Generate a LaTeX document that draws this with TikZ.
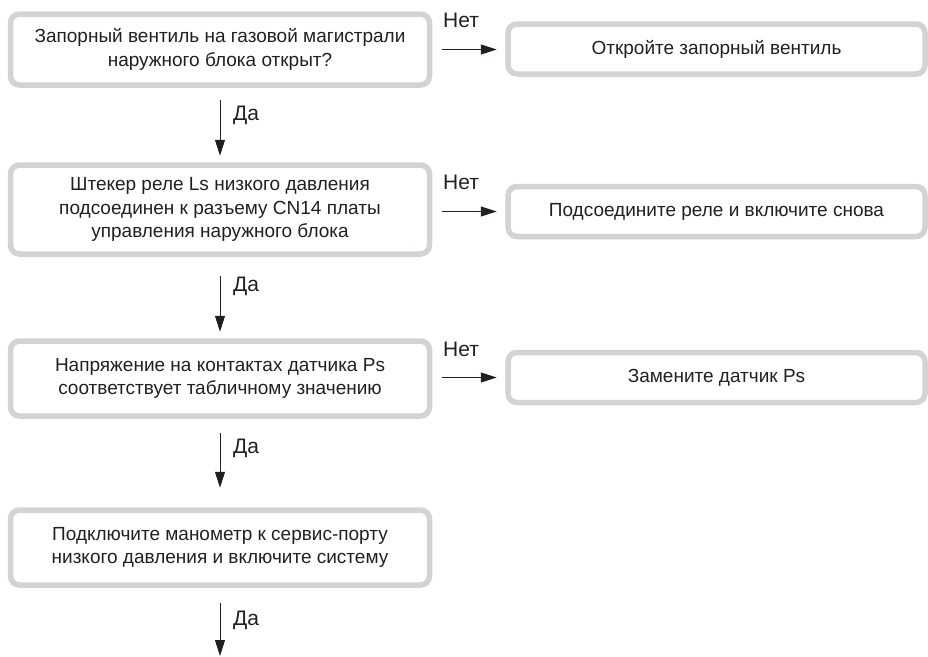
\documentclass[tikz,border=0pt]{standalone}
\usepackage{fontspec}
\setmainfont{Liberation Sans}
\usetikzlibrary{arrows.meta}
\definecolor{bordergray}{RGB}{209,211,212}
\definecolor{txt}{RGB}{35,31,32}
\begin{document}
\begin{tikzpicture}[x=1pt,y=-1pt,
  every node/.style={text=txt, font=\fontsize{19pt}{23.5pt}\selectfont},
  qbox/.style={draw=bordergray, line width=5.5pt, rounded corners=9pt, align=center,
    minimum width=419pt, inner sep=0pt},
  abox/.style={draw=bordergray, line width=5.5pt, rounded corners=9pt, align=center,
    minimum width=417pt, minimum height=50pt, inner sep=0pt},
  lbl/.style={inner sep=0pt, font=\fontsize{21pt}{25pt}\selectfont},
  arr/.style={draw=txt, line width=0.9pt, -{Triangle[length=16pt,width=10pt]}}
]
\useasboundingbox (0,0) rectangle (928,656);

% question boxes
\node[qbox, minimum height=71pt] (b1) at (220,49.5)
  {Запорный вентиль на газовой магистрали\\наружного блока открыт?};
\node[qbox, minimum height=89pt] (b2) at (220,209.5)
  {Штекер реле Ls низкого давления\\подсоединен к разъему CN14 платы\\управления наружного блока};
\node[qbox, minimum height=75pt] (b3) at (220,378.5)
  {Напряжение на контактах датчика Ps\\соответствует табличному значению};
\node[qbox, minimum height=75pt] (b4) at (220,547.5)
  {Подключите манометр к сервис-порту\\низкого давления и включите систему};

% action boxes
\node[abox] (r1) at (716.5,49) {Откройте запорный вентиль};
\node[abox] (r2) at (716.5,211.5) {Подсоедините реле и включите снова};
\node[abox] (r3) at (716.5,377.5) {Замените датчик Ps};

\coordinate (end) at (220,656);

% down arrows
\draw[arr, shorten <=12.5pt, shorten >=6.5pt] (b1.south) -- (b2.north);
\draw[arr, shorten <=19pt, shorten >=6.5pt] (b2.south) -- (b3.north);
\draw[arr, shorten <=14.5pt, shorten >=19.5pt] (b3.south) -- (b4.north);
\draw[arr, shorten <=15.5pt] (b4.south) -- (end);

% right arrows
\draw[arr, shorten <=10pt, shorten >=8.5pt] (b1.east) -- (b1.east -| r1.west);
\draw[arr, shorten <=10pt, shorten >=8.5pt] (b2.east |- r2.west) -- (r2.west);
\draw[arr, shorten <=10pt, shorten >=8.5pt] (b3.east |- r3.west) -- (r3.west);

% labels
\node[lbl, anchor=west] (d1) at (233,115) {Да};
\node[lbl, anchor=west] (d2) at (233,286) {Да};
\node[lbl, anchor=west] (d3) at (233,448) {Да};
\node[lbl, anchor=west] (d4) at (233,620) {Да};
\node[lbl, anchor=west] (n1) at (443,20) {Нет};
\node[lbl, anchor=west] (n2) at (443,182) {Нет};
\node[lbl, anchor=west] (n3) at (443,349) {Нет};
\end{tikzpicture}
\end{document}
